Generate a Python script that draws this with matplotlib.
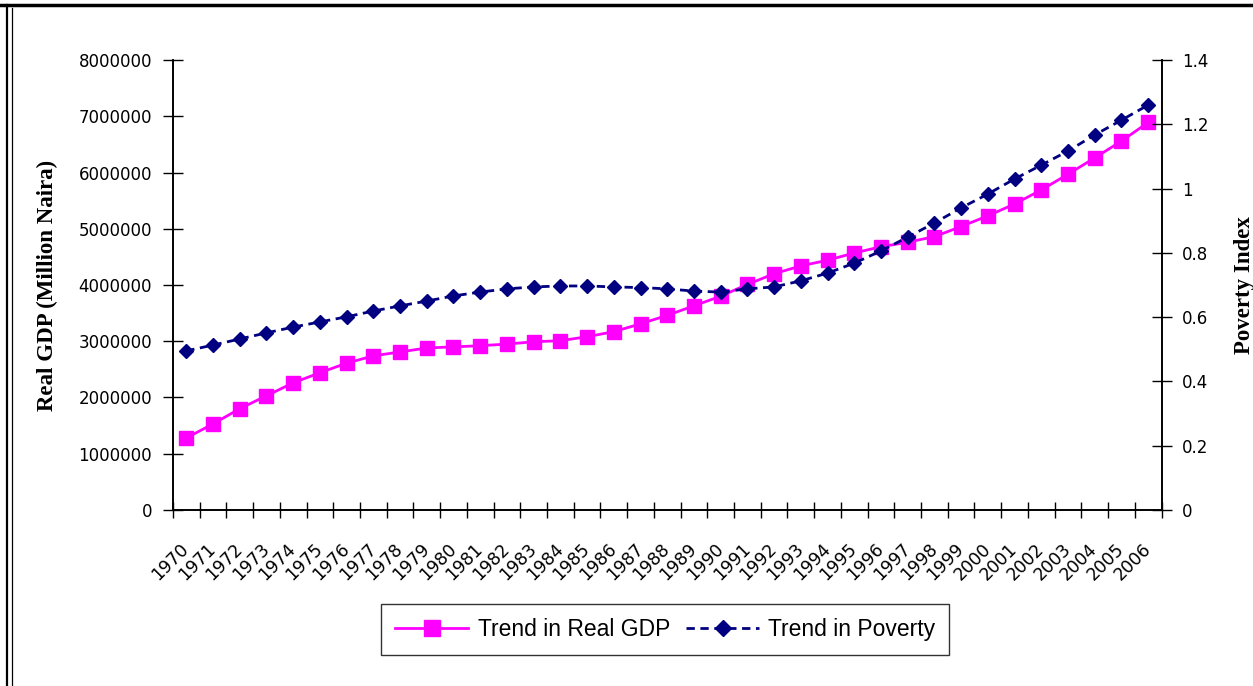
import matplotlib.pyplot as plt
from matplotlib.lines import Line2D
import numpy as np

years = [str(y) for y in range(1970, 2007)]

# real GDP, million naira (left axis)
gdp = [1280000, 1530000, 1800000, 2030000, 2260000, 2440000, 2610000, 2740000,
       2810000, 2880000, 2900000, 2920000, 2950000, 2990000, 3010000, 3080000,
       3170000, 3310000, 3460000, 3630000, 3800000, 4010000, 4200000, 4340000,
       4440000, 4570000, 4680000, 4760000, 4860000, 5040000, 5230000, 5440000,
       5690000, 5970000, 6260000, 6560000, 6890000]

# poverty index (right axis)
poverty = [0.495, 0.513, 0.532, 0.551, 0.569, 0.585, 0.601, 0.619, 0.635,
           0.650, 0.666, 0.678, 0.688, 0.694, 0.697, 0.697, 0.694, 0.692,
           0.688, 0.681, 0.678, 0.688, 0.694, 0.713, 0.737, 0.768, 0.806,
           0.849, 0.893, 0.940, 0.983, 1.030, 1.073, 1.117, 1.167, 1.213,
           1.260]

fig = plt.figure(figsize=(12.53, 6.86), dpi=100)
ax = fig.add_axes([0.138, 0.2566, 0.789, 0.6559])
ax2 = ax.twinx()

x = np.arange(len(years))
l1, = ax.plot(x, gdp, color='#FF00FF', lw=2, marker='s', ms=10,
              label='Trend in Real GDP')
l2, = ax2.plot(x, poverty, color='#000080', lw=2, ls=(0, (3, 2)),
               marker='D', ms=7, label='Trend in Poverty')

ax.set_xlim(-0.5, len(years) - 0.5)
ax.set_ylim(0, 8000000)
ax2.set_ylim(0, 1.4)

ax.set_yticks(np.arange(0, 8000001, 1000000))
ax.set_yticklabels([str(v) for v in range(0, 8000001, 1000000)])
ax2.set_yticks(np.arange(0, 1.41, 0.2))
ax2.set_yticklabels(['0', '0.2', '0.4', '0.6', '0.8', '1', '1.2', '1.4'])

# category boundaries carry the tick marks, centres carry the labels
ax.set_xticks(np.arange(-0.5, len(years)))
ax.set_xticklabels([])
ax.set_xticks(x, minor=True)
ax.set_xticklabels(years, minor=True, rotation=45, ha='right', va='center',
                   rotation_mode='anchor', fontsize=12.5)
ax.tick_params(axis='x', which='minor', length=0, pad=26)
ax.tick_params(axis='x', which='major', direction='inout', length=12, width=1)
ax.tick_params(axis='y', direction='inout', length=14, width=1, labelsize=12,
               pad=8)
ax2.tick_params(axis='y', direction='inout', length=14, width=1, labelsize=12,
                pad=8)

for a in (ax, ax2):
    a.spines['top'].set_visible(False)
    for s in a.spines.values():
        s.set_linewidth(1.2)

ax.set_ylabel('Real GDP (Million Naira)', family='Liberation Serif',
              fontweight='bold', fontsize=16.5, labelpad=15)
ax2.set_ylabel('Poverty Index', family='Liberation Serif', fontweight='bold',
               fontsize=16.5, labelpad=18)

leg = fig.legend(handles=[l1, l2], loc='center', bbox_to_anchor=(0.531, 0.082),
                 ncol=2, frameon=True, fancybox=False, edgecolor='black',
                 prop={'family': 'Liberation Sans', 'size': 16.5},
                 handlelength=3.2, columnspacing=0.7, handletextpad=0.4,
                 borderpad=0.6, markerscale=1.15)
leg.get_frame().set_linewidth(1)

# outer frame of the figure
fig.add_artist(Line2D([0, 1], [0.992, 0.992], color='black', lw=2.5))
fig.add_artist(Line2D([0.0055, 0.0055], [0, 0.992], color='black', lw=1.6))
fig.add_artist(Line2D([0.0095, 0.0095], [0, 0.989], color='black', lw=0.9))

fig.savefig('out.png', dpi=100)
